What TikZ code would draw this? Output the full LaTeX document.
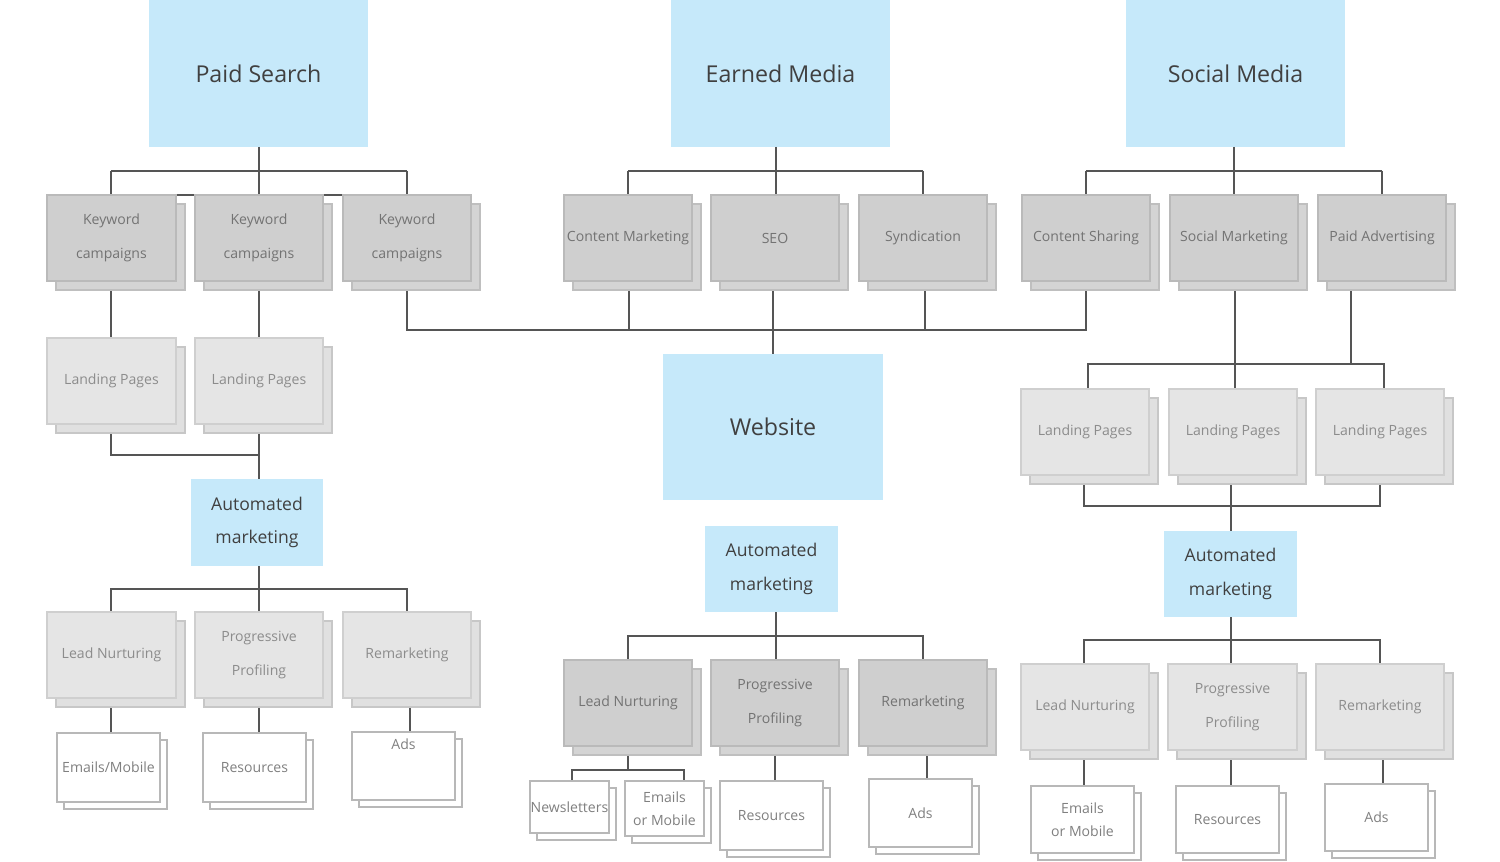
\documentclass[tikz,border=0pt]{standalone}
\usepackage{fontspec}
\setmainfont{Open Sans}
\usetikzlibrary{shadows}
\definecolor{bl}{HTML}{C6E9FA}
\definecolor{lnc}{HTML}{555555}
\tikzset{
 base/.style={rectangle,align=center,inner sep=0pt,line width=0.4pt},
 blue/.style={base,fill=bl,text=black!75,font=\fontsize{6.6pt}{8pt}\selectfont},
 auto/.style={base,fill=bl,text=black!75,font=\fontsize{5pt}{9.5pt}\selectfont},
 dk/.style={base,fill=black!19,draw=black!27,text=black!55,font=\fontsize{4pt}{9.6pt}\selectfont,
   general shadow={shadow xshift=0.09cm,shadow yshift=-0.09cm,fill=black!17,draw=black!25}},
 lt/.style={base,fill=black!10,draw=black!19,text=black!45,font=\fontsize{4pt}{9.6pt}\selectfont,
   general shadow={shadow xshift=0.09cm,shadow yshift=-0.09cm,fill=black!12,draw=black!22}},
 wt/.style={base,fill=white,draw=black!28,text=black!50,font=\fontsize{4pt}{6.4pt}\selectfont,
   general shadow={shadow xshift=0.07cm,shadow yshift=-0.07cm,fill=white,draw=black!28}},
 ln/.style={draw=lnc,line width=0.6pt}
}
\newcommand{\bx}[7]{\node[#2,minimum width={(#5-#3)*0.01cm},minimum height={(#6-#4)*0.01cm}] (#1) at ({(#3+#5)/2},{(#4+#6)/2}) {#7};}
\begin{document}
\begin{tikzpicture}[x=0.01cm,y=-0.01cm]
\fill[white] (0,0) rectangle (1500,862);
\useasboundingbox (0,0) rectangle (1500,862);
% top
\bx{ps}{blue}{149}{0}{368}{147}{Paid Search}
\bx{em}{blue}{671}{0}{890}{147}{Earned Media}
\bx{sm}{blue}{1126}{0}{1345}{147}{Social Media}
% lines top (draw before boxes)
\coordinate (c1) at (776,171);
\path[ln] (259,147) -- (259,195) (111,195) |- (407,195) (111,171) -- (407,171);
\path[ln] (776,147) -- (776,195) (628,171) -- (923,171) (628,171) -- (628,195) (923,171) -- (923,195);
\path[ln] (1234,147) -- (1234,195) (1086,171) -- (1382,171) (1086,171) -- (1086,195) (1382,171) -- (1382,195);
\path[ln] (111,171) -- (111,195) (407,171) -- (407,195);
% paid search tree lines
\path[ln] (111,281) -- (111,338) (259,281) -- (259,338);
\path[ln] (111,424) -- (111,455) -- (259,455) (259,424) -- (259,479);
\path[ln] (407,281) -- (407,330) -- (1086,330) -- (1086,281);
\path[ln] (629,281) -- (629,330) (925,281) -- (925,330) (773,281) -- (773,354);
% social lines
\path[ln] (1235,281) -- (1235,389) (1351,281) -- (1351,364) (1088,389) -- (1088,364) -- (1384,364) -- (1384,389);
\path[ln] (1084,475) -- (1084,506) -- (1380,506) -- (1380,475) (1231,475) -- (1231,531);
% lower trees
\path[ln] (259,566) -- (259,612) (111,612) -- (111,589) -- (407,589) -- (407,612);
\path[ln] (111,698) -- (111,733) (259,698) -- (259,733) (410,698) -- (410,733);
\path[ln] (776,612) -- (776,660) (628,660) -- (628,636) -- (923,636) -- (923,660);
\path[ln] (628,746) -- (628,770) (572,781) -- (572,770) -- (684,770) -- (684,781) (775,746) -- (775,781) (927,746) -- (927,779);
\path[ln] (1231,617) -- (1231,664) (1084,664) -- (1084,640) -- (1380,640) -- (1380,664);
\path[ln] (1084,750) -- (1084,786) (1231,750) -- (1231,786) (1383,750) -- (1383,784);
% level 2
\bx{k1}{dk}{47}{195}{176}{281}{Keyword\\campaigns}
\bx{k2}{dk}{195}{195}{323}{281}{Keyword\\campaigns}
\bx{k3}{dk}{343}{195}{471}{281}{Keyword\\campaigns}
\bx{cm}{dk}{564}{195}{692}{281}{Content Marketing}
\bx{seo}{dk}{711}{195}{839}{281}{SEO}
\bx{syn}{dk}{859}{195}{987}{281}{Syndication}
\bx{cs}{dk}{1022}{195}{1150}{281}{Content Sharing}
\bx{smk}{dk}{1170}{195}{1298}{281}{Social Marketing}
\bx{pa}{dk}{1318}{195}{1446}{281}{Paid Advertising}
% landing pages
\bx{lp1}{lt}{47}{338}{176}{424}{Landing Pages}
\bx{lp2}{lt}{195}{338}{323}{424}{Landing Pages}
\bx{lp3}{lt}{1021}{389}{1149}{475}{Landing Pages}
\bx{lp4}{lt}{1169}{389}{1297}{475}{Landing Pages}
\bx{lp5}{lt}{1316}{389}{1444}{475}{Landing Pages}
% website and automated
\bx{web}{blue}{663}{354}{883}{500}{Website}
\bx{am1}{auto}{191}{479}{323}{566}{Automated\\marketing}
\bx{am2}{auto}{705}{526}{838}{612}{Automated\\marketing}
\bx{am3}{auto}{1164}{531}{1297}{617}{Automated\\marketing}
% level 4
\bx{ln1}{lt}{47}{612}{176}{698}{Lead Nurturing}
\bx{pp1}{lt}{195}{612}{323}{698}{Progressive\\Profiling}
\bx{rm1}{lt}{343}{612}{471}{698}{Remarketing}
\bx{ln2}{dk}{564}{660}{692}{746}{Lead Nurturing}
\bx{pp2}{dk}{711}{660}{839}{746}{Progressive\\Profiling}
\bx{rm2}{dk}{859}{660}{987}{746}{Remarketing}
\bx{ln3}{lt}{1021}{664}{1149}{750}{Lead Nurturing}
\bx{pp3}{lt}{1168}{664}{1297}{750}{Progressive\\Profiling}
\bx{rm3}{lt}{1316}{664}{1444}{750}{Remarketing}
% leaves
\bx{e1}{wt}{57}{733}{160}{802}{Emails/Mobile}
\bx{r1}{wt}{203}{733}{306}{802}{Resources}
\bx{a1}{wt}{352}{732}{455}{800}{Ads\\[6pt]}
\bx{nl}{wt}{530}{781}{609}{833}{Newsletters}
\bx{e2}{wt}{625}{781}{704}{836}{Emails\\or Mobile}
\bx{r2}{wt}{720}{781}{823}{850}{Resources}
\bx{a2}{wt}{869}{779}{972}{847}{Ads}
\bx{e3}{wt}{1031}{786}{1134}{853}{Emails\\or Mobile}
\bx{r3}{wt}{1176}{786}{1279}{853}{Resources}
\bx{a3}{wt}{1325}{784}{1428}{851}{Ads}
\end{tikzpicture}
\end{document}
